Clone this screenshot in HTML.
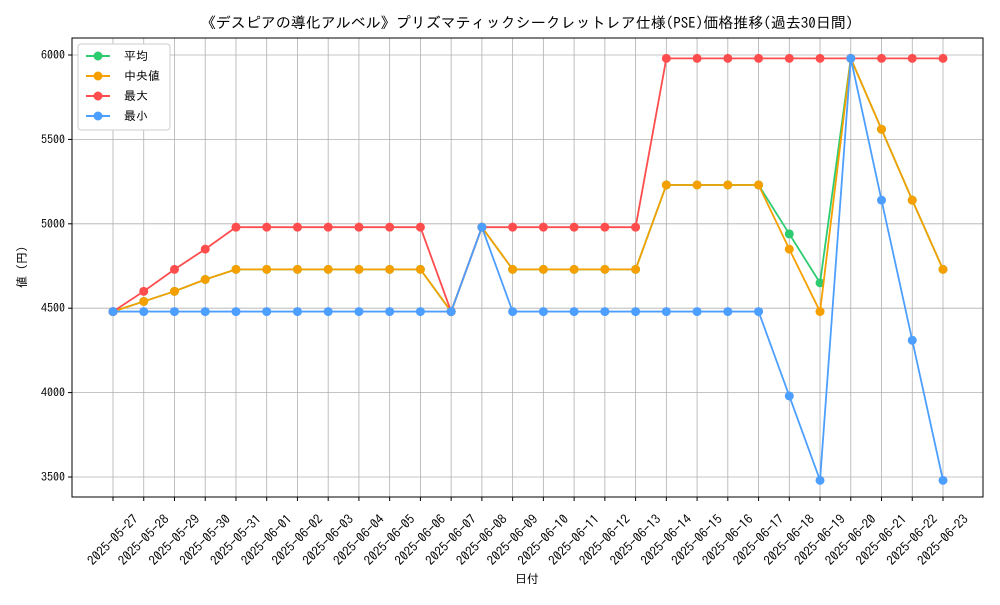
<!DOCTYPE html>
<html><head><meta charset="utf-8"><style>
body{margin:0;background:#fff}
svg text{font-family:"IPAGothic","Noto Sans CJK JP",sans-serif;fill:#000}
</style></head><body>
<svg id="chart" width="1000" height="600" xmlns="http://www.w3.org/2000/svg">
<rect width="1000" height="600" fill="#fff"/>
<text x="527" y="28" font-size="15" text-anchor="middle">《デスピアの導化アルベル》プリズマティックシークレットレア仕様(PSE)価格推移(過去30日間)</text>
<g id="grid"></g><g id="axes"></g><g id="series"></g>
<text x="527" y="583" font-size="12" text-anchor="middle">日付</text>
<text transform="translate(26,267) rotate(-90)" font-size="12" text-anchor="middle">値 (円)</text>
<g>
<rect x="78" y="44" width="92" height="86" fill="#fff" stroke="#ccc" rx="3"/>
<g><line x1="86" y1="56" x2="110" y2="56" stroke="#2ecc71" stroke-width="2"/><circle cx="98" cy="56" r="4.5" fill="#2ecc71"/><text x="124" y="60" font-size="12">平均</text></g>
<g><line x1="86" y1="76" x2="110" y2="76" stroke="#f5a000" stroke-width="2"/><circle cx="98" cy="76" r="4.5" fill="#f5a000"/><text x="124" y="80" font-size="12">中央値</text></g>
<g><line x1="86" y1="96" x2="110" y2="96" stroke="#ff4d4d" stroke-width="2"/><circle cx="98" cy="96" r="4.5" fill="#ff4d4d"/><text x="124" y="100" font-size="12">最大</text></g>
<g><line x1="86" y1="116" x2="110" y2="116" stroke="#4d9fff" stroke-width="2"/><circle cx="98" cy="116" r="4.5" fill="#4d9fff"/><text x="124" y="120" font-size="12">最小</text></g>
</g>
</svg>
<script>
const categories=["2025-05-27","2025-05-28","2025-05-29","2025-05-30","2025-05-31","2025-06-01","2025-06-02","2025-06-03","2025-06-04","2025-06-05","2025-06-06","2025-06-07","2025-06-08","2025-06-09","2025-06-10","2025-06-11","2025-06-12","2025-06-13","2025-06-14","2025-06-15","2025-06-16","2025-06-17","2025-06-18","2025-06-19","2025-06-20","2025-06-21","2025-06-22","2025-06-23"];
const meanValues=[4480,4540,4600,4670,4730,4730,4730,4730,4730,4730,4730,4480,4980,4730,4730,4730,4730,4730,5230,5230,5230,5230,4940,4650,5980,5560,5140,4730];
const medianValues=[4480,4540,4600,4670,4730,4730,4730,4730,4730,4730,4730,4480,4980,4730,4730,4730,4730,4730,5230,5230,5230,5230,4850,4480,5980,5560,5140,4730];
const maxValues=[4480,4600,4730,4850,4980,4980,4980,4980,4980,4980,4980,4480,4980,4980,4980,4980,4980,4980,5980,5980,5980,5980,5980,5980,5980,5980,5980,5980];
const minValues=[4480,4480,4480,4480,4480,4480,4480,4480,4480,4480,4480,4480,4980,4480,4480,4480,4480,4480,4480,4480,4480,4480,3980,3480,5980,5140,4310,3480];
const yTicks=[3500,4000,4500,5000,5500,6000];
const NS="http://www.w3.org/2000/svg";
const L=72,R=983,T=38,B=497;
const xs=i=>113+i*(943-113)/(categories.length-1);
const ys=v=>477-(v-3500)*(477-55)/2500;
function mk(tag,attrs,parent){const e=document.createElementNS(NS,tag);for(const k in attrs)e.setAttribute(k,attrs[k]);parent.appendChild(e);return e;}
const grid=document.getElementById('grid'),axes=document.getElementById('axes'),ser=document.getElementById('series');
categories.forEach((c,i)=>{
 const g=mk('line',{x1:xs(i),x2:xs(i),y1:T,y2:B,stroke:'#b0b0b0','stroke-width':0.8},grid);
 
 
 mk('line',{x1:xs(i),x2:xs(i),y1:B,y2:B+4,stroke:'#000'},axes);
 const t=mk('text',{transform:`translate(${xs(i)+3},${B+46}) rotate(-45)`,'font-size':13,'text-anchor':'middle'},axes);
 t.textContent=c;
 
 
});
yTicks.forEach(v=>{
 const g=mk('line',{x1:L,x2:R,y1:ys(v),y2:ys(v),stroke:'#b0b0b0','stroke-width':0.8},grid);
 
 
 mk('line',{x1:L-4,x2:L,y1:ys(v),y2:ys(v),stroke:'#000'},axes);
 const t=mk('text',{x:L-7,y:ys(v)+4,'font-size':12,'text-anchor':'end'},axes);
 t.textContent=v;
 
 
});
const frame=mk('rect',{x:L,y:T,width:R-L,height:B-T,fill:'none',stroke:'#000','stroke-width':1},axes);


[[meanValues,'#2ecc71','mean'],[medianValues,'#f5a000','median'],[maxValues,'#ff4d4d','max'],[minValues,'#4d9fff','min']].forEach(([vals,col,nm])=>{
 const g=mk('g',{},ser);
 
 
 const p=mk('polyline',{points:vals.map((v,i)=>xs(i)+','+ys(v)).join(' '),fill:'none',stroke:col,'stroke-width':1.8},g);
 
 
 vals.forEach((v,i)=>{
  const c=mk('circle',{cx:xs(i),cy:ys(v),r:4.5,fill:col},g);
  
  
 });
});
</script>
</body></html>
